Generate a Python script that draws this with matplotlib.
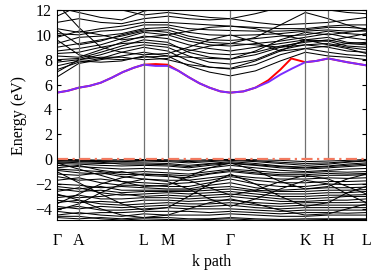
import numpy as np
import matplotlib
matplotlib.use("Agg")
import matplotlib.pyplot as plt

plt.rcParams['font.family'] = ['Liberation Serif', 'DejaVu Serif']

# high-symmetry points along the path (path length units)
kpt_pos = [0, 22, 87, 111, 174, 249, 272, 310]
kpt_labels = ["Γ", "A", "L", "M", "Γ", "K", "H", "L"]

# sample grid for the black bands: Γ, A, A-L x2, L, M, M-Γ x2, Γ, Γ-K x2, K, H, H-L, L
k_grid = [0, 22, 44, 65, 87, 111, 132, 153, 174, 199, 224, 249, 272, 291, 310]

cond_bands = [
    [6.6, 7.7, 8.0, 8.3, 8.6, 8.3, 7.5, 7.0, 6.7, 7.1, 7.9, 8.6, 8.3, 8.2, 8.0],
    [7.2, 7.8, 8.1, 8.6, 9.0, 8.7, 7.9, 7.4, 7.25, 7.6, 8.4, 8.9, 8.6, 8.4, 8.3],
    [7.8, 8.0, 8.4, 8.9, 9.2, 9.0, 8.3, 7.8, 7.65, 8.0, 8.8, 9.2, 9.0, 8.7, 8.6],
    [8.0, 8.1, 8.6, 9.1, 9.6, 9.4, 8.6, 8.2, 8.05, 8.4, 9.0, 9.5, 9.5, 9.1, 9.0],
    [8.3, 8.2, 8.8, 9.4, 9.9, 9.7, 9.2, 8.9, 8.7, 9.0, 9.3, 9.6, 9.8, 9.4, 9.3],
    [8.7, 8.9, 9.2, 9.7, 10.2, 10.0, 9.5, 9.2, 9.1, 9.3, 9.5, 9.8, 10.1, 9.8, 9.6],
    [9.0, 9.3, 9.6, 9.9, 10.3, 10.4, 9.9, 9.6, 9.55, 9.7, 9.9, 10.0, 10.3, 10.1, 10.0],
    [9.3, 9.8, 9.9, 10.1, 10.5, 10.6, 10.2, 10.0, 9.95, 10.0, 10.1, 10.3, 10.4, 10.3, 10.3],
    [10.1, 10.0, 10.3, 10.4, 10.8, 10.8, 10.5, 10.4, 10.35, 10.3, 10.3, 10.4, 10.6, 10.6, 10.5],
    [10.5, 10.2, 10.5, 10.7, 11.0, 11.0, 10.9, 10.8, 10.7, 10.6, 10.5, 10.5, 10.7, 10.8, 10.8],
    [11.5, 12.3, 12.6, 12.0, 11.6, 11.8, 11.6, 11.4, 11.3, 11.7, 12.2, 12.5, 12.0, 11.8, 11.7],
    [12.2, 11.8, 11.4, 11.2, 11.9, 12.3, 12.2, 12.0, 12.0, 12.4, 13.0, 13.0, 12.2, 12.1, 12.0],
    [10.4, 9.2, 9.5, 10.0, 10.4, 10.2, 9.7, 9.4, 9.3, 9.8, 10.8, 11.8, 11.3, 10.8, 10.4],
    [7.0, 8.0, 8.2, 8.2, 8.0, 8.1, 8.7, 9.1, 9.3, 9.2, 9.0, 9.2, 9.3, 9.0, 8.8],
    [12.5, 10.6, 9.0, 8.6, 8.4, 8.5, 9.0, 9.6, 10.0, 9.4, 8.7, 8.9, 9.1, 9.3, 9.4],
    [9.6, 8.4, 8.1, 8.0, 8.2, 8.3, 8.2, 8.1, 8.05, 8.7, 9.6, 10.2, 10.0, 10.2, 10.4],
    [8.5, 8.6, 9.0, 9.3, 9.4, 9.2, 8.8, 8.5, 8.4, 8.6, 9.1, 9.4, 9.6, 9.3, 9.2],
    [9.8, 10.3, 10.0, 9.6, 9.8, 10.0, 10.3, 10.6, 10.7, 10.5, 10.0, 9.6, 9.5, 9.8, 10.1],
    [11.0, 11.3, 11.0, 10.9, 11.3, 11.5, 11.3, 11.2, 11.3, 11.0, 10.8, 10.9, 11.0, 11.2, 11.4],
    [7.5, 7.9, 7.8, 7.9, 8.3, 8.0, 7.6, 7.4, 7.3, 7.9, 8.7, 9.6, 9.2, 8.9, 8.5],
]

val_bands = [
    [-0.02, -0.05, -0.08, -0.05, -0.03, -0.05, -0.1, -0.05, -0.02, -0.05, -0.1, -0.2, -0.15, -0.1, -0.03],
    [-0.05, -0.1, -0.12, -0.15, -0.1, -0.12, -0.2, -0.12, -0.05, -0.12, -0.25, -0.35, -0.3, -0.2, -0.1],
    [-0.1, -0.15, -0.2, -0.2, -0.15, -0.2, -0.3, -0.2, -0.1, -0.2, -0.35, -0.5, -0.4, -0.25, -0.15],
    [-0.2, -0.3, -0.35, -0.3, -0.3, -0.35, -0.5, -0.35, -0.2, -0.35, -0.55, -0.65, -0.55, -0.4, -0.3],
    [-0.25, -0.2, -0.25, -0.4, -0.4, -0.45, -0.6, -0.4, -0.3, -0.45, -0.6, -0.7, -0.6, -0.5, -0.4],
    [-0.35, -0.4, -0.5, -0.55, -0.5, -0.55, -0.7, -0.5, -0.35, -0.5, -0.7, -0.8, -0.7, -0.6, -0.5],
    [-0.5, -0.6, -0.7, -0.8, -0.75, -0.8, -0.9, -0.7, -0.5, -0.7, -0.9, -1.0, -0.9, -0.8, -0.75],
    [-0.7, -0.5, -0.9, -1.1, -1.0, -1.1, -1.2, -1.0, -0.8, -0.95, -1.1, -1.1, -1.0, -1.05, -1.0],
    [-0.8, -0.9, -1.0, -1.25, -1.2, -1.25, -1.35, -1.15, -0.9, -1.1, -1.25, -1.25, -1.15, -1.2, -1.15],
    [-0.9, -1.1, -1.2, -1.0, -1.3, -1.4, -1.5, -1.2, -1.0, -1.2, -1.35, -1.4, -1.3, -1.3, -1.25],
    [-1.2, -1.3, -1.1, -1.4, -1.6, -1.7, -1.7, -1.5, -1.3, -1.5, -1.6, -1.6, -1.5, -1.55, -1.5],
    [-1.4, -1.7, -1.6, -1.8, -1.9, -2.0, -1.9, -1.7, -1.4, -1.7, -1.9, -1.9, -1.8, -1.8, -1.75],
    [-1.7, -1.5, -1.9, -2.1, -2.1, -2.2, -2.2, -1.9, -1.6, -2.0, -2.2, -2.2, -2.0, -2.05, -2.0],
    [-2.0, -2.1, -2.3, -2.2, -2.3, -2.4, -2.4, -2.1, -1.9, -2.3, -2.5, -2.4, -2.3, -2.3, -2.25],
    [-2.2, -2.4, -2.2, -2.5, -2.5, -2.5, -2.5, -2.3, -2.2, -2.5, -2.6, -2.6, -2.5, -2.5, -2.45],
    [-2.4, -2.6, -2.5, -2.7, -2.6, -2.6, -2.6, -2.5, -2.4, -2.6, -2.8, -2.8, -2.7, -2.7, -2.6],
    [-2.6, -2.3, -2.7, -2.9, -2.8, -2.7, -2.8, -2.7, -2.6, -2.8, -3.0, -3.0, -2.9, -2.9, -2.85],
    [-2.9, -3.1, -3.0, -2.8, -3.0, -2.9, -3.0, -2.9, -2.8, -3.0, -3.2, -3.2, -3.1, -3.0, -3.0],
    [-3.1, -2.9, -3.2, -3.2, -3.1, -3.1, -3.2, -3.1, -3.0, -3.2, -3.4, -3.4, -3.3, -3.3, -3.2],
    [-3.3, -3.5, -3.4, -3.5, -3.3, -3.3, -3.4, -3.3, -3.3, -3.5, -3.6, -3.5, -3.5, -3.5, -3.45],
    [-3.5, -3.3, -3.6, -3.7, -3.6, -3.5, -3.6, -3.6, -3.5, -3.7, -3.8, -3.7, -3.7, -3.7, -3.7],
    [-3.8, -4.0, -3.8, -3.9, -3.8, -3.7, -3.8, -3.8, -3.7, -3.9, -4.0, -3.9, -3.9, -3.9, -3.9],
    [-4.0, -3.8, -4.1, -4.1, -4.0, -3.9, -4.0, -4.0, -4.0, -4.1, -4.2, -4.1, -4.1, -4.1, -4.1],
    [-4.2, -4.4, -4.3, -4.3, -4.2, -4.2, -4.2, -4.3, -4.2, -4.3, -4.4, -4.3, -4.3, -4.35, -4.3],
    [-4.5, -4.3, -4.5, -4.6, -4.4, -4.5, -4.5, -4.5, -4.4, -4.5, -4.6, -4.6, -4.5, -4.5, -4.5],
    [-4.6, -4.6, -4.8, -4.9, -4.8, -4.85, -4.9, -4.85, -4.8, -4.9, -4.9, -4.9, -4.85, -4.85, -4.85],
    [-4.7, -4.8, -4.7, -4.8, -4.7, -4.7, -4.8, -4.8, -4.7, -4.8, -4.85, -4.8, -4.8, -4.8, -4.8],
    [-1.0, -1.9, -2.8, -3.6, -4.1, -3.9, -3.0, -2.0, -1.2, -2.0, -3.0, -3.8, -3.5, -2.7, -2.2],
    [-4.1, -3.6, -2.7, -2.0, -1.6, -1.8, -2.4, -3.2, -3.8, -3.2, -2.4, -1.7, -2.0, -2.8, -3.5],
    [-2.8, -3.3, -4.0, -4.5, -4.7, -4.5, -4.0, -3.5, -3.2, -3.6, -4.1, -4.5, -4.4, -4.0, -3.6],
    [-3.6, -2.8, -2.0, -1.5, -1.2, -1.3, -1.7, -2.3, -2.9, -2.5, -1.8, -1.3, -1.6, -2.2, -2.8],
    [-0.3, -0.8, -1.3, -1.8, -2.2, -2.1, -1.4, -0.7, -0.3, -0.9, -1.8, -2.4, -2.2, -1.6, -1.2],
]

# lowest conduction band (purple) and the red band
k_purple = [0, 11, 22, 33, 44, 55, 66, 77, 87, 99, 111, 122, 132, 143, 153, 164, 174,
            187, 199, 212, 224, 236, 249, 260, 272, 291, 310]
e_purple = [5.35, 5.5, 5.75, 5.9, 6.15, 6.55, 7.0, 7.35, 7.6, 7.5, 7.5, 7.1, 6.6, 6.1, 5.75,
            5.45, 5.35, 5.45, 5.75, 6.2, 6.8, 7.3, 7.8, 7.9, 8.1, 7.8, 7.55]
k_red = [0, 11, 22, 33, 44, 55, 66, 77, 87, 99, 111, 122, 132, 143, 153, 164, 174,
         187, 199, 212, 224, 235, 249, 260, 272, 291, 310]
e_red = [5.35, 5.5, 5.75, 5.9, 6.15, 6.55, 7.0, 7.35, 7.6, 7.65, 7.6, 7.1, 6.6, 6.1, 5.75,
         5.45, 5.35, 5.45, 5.75, 6.35, 7.2, 8.1, 7.8, 7.9, 8.1, 7.8, 7.55]

fig = plt.figure(figsize=(3.74, 2.70), dpi=100)
ax = fig.add_axes([0.152, 0.185, 0.827, 0.778])

for band in cond_bands + val_bands:
    ax.plot(k_grid, band, color="black", lw=0.75)

ax.plot(k_red, e_red, color="red", lw=1.4)
ax.plot(k_purple, e_purple, color="#7a2cff", lw=1.4)

for x in kpt_pos[1:-1]:
    ax.axvline(x, color="#707070", lw=0.9)

ax.axhline(0, color="#f27a60", lw=1.6, linestyle=(0, (5, 2, 1, 2)))

ax.set_xlim(0, 310)
ax.set_ylim(-4.9, 12)
ax.set_xticks(kpt_pos)
ax.set_xticklabels(kpt_labels)
ax.set_yticks([-4, -2, 0, 2, 4, 6, 8, 10, 12])
ax.tick_params(axis="x", length=0, pad=9, labelsize=11.5)
ax.tick_params(axis="y", direction="in", right=True, length=3, labelsize=11.5)
ax.set_xlabel("k path", fontsize=11.5, labelpad=4)
ax.set_ylabel("Energy (eV)", fontsize=11.5, labelpad=6)

fig.savefig("out.png", dpi=100)
